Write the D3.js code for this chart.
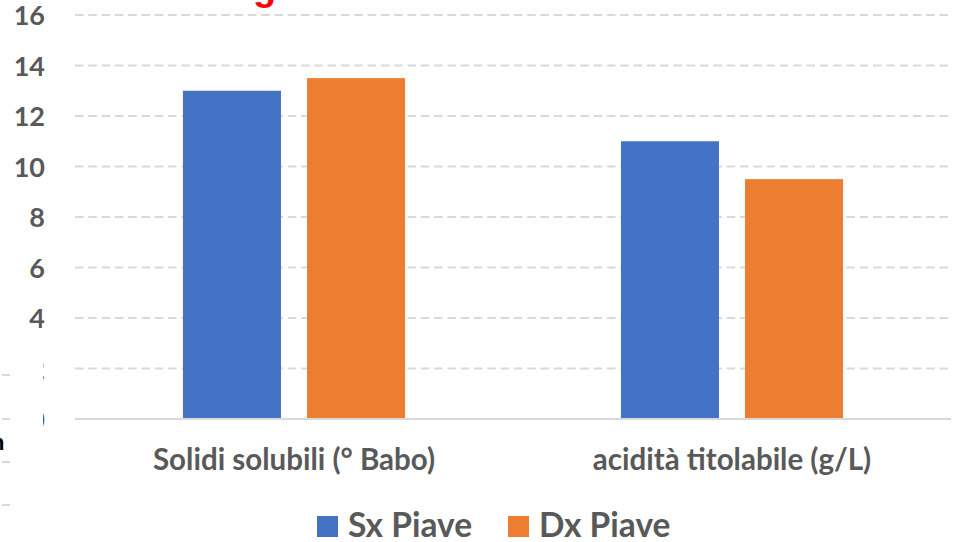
<!DOCTYPE html>
<html>
<head>
<meta charset="utf-8">
<script src="https://cdn.jsdelivr.net/npm/d3@7"></script>
<style>
  body { margin: 0; background: #fff; }
  svg { display: block; font-family: Lato, "Open Sans", sans-serif; font-weight: bold; }
</style>
</head>
<body>
<svg id="chart" width="955" height="542"></svg>
<script>
const categories = ["Solidi solubili (° Babo)", "acidità titolabile (g/L)"];
const series = ["Sx Piave", "Dx Piave"];
const sxPiave = [13, 11];
const dxPiave = [13.5, 9.5];
const yTicks = [0, 2, 4, 6, 8, 10, 12, 14, 16];
const colors = ["#4472C4", "#ED7D31"];

const values = [sxPiave, dxPiave];
const svg = d3.select("#chart");
const plotLeft = 75, plotRight = 951, plotTop = 15, plotBottom = 419;

// Scales
const x0 = d3.scaleBand().domain(categories).range([plotLeft, plotRight]).padding(0);
const x1 = d3.scaleBand().domain(series).range([0, x0.bandwidth()])
  .paddingInner(0.21).paddingOuter(0.87);
const y = d3.scaleLinear().domain([0, 16]).range([plotBottom, plotTop]);

// Gridlines
svg.append("g")
  .selectAll("line")
  .data(yTicks.filter(d => d > 0))
  .enter()
  .append("line")
  .attr("x1", plotLeft)
  .attr("x2", plotRight)
  .attr("y1", d => y(d))
  .attr("y2", d => y(d))
  .attr("stroke", "#d9d9d9")
  .attr("stroke-width", 2)
  .attr("stroke-dasharray", "8.5,4.8");

// Y axis labels
const yAxis = d3.axisLeft(y).tickValues(yTicks).tickSize(0).tickPadding(0);
const yg = svg.append("g")
  .attr("transform", `translate(45,1)`)
  .call(yAxis);
yg.select(".domain").remove();
yg.selectAll("text")
  .attr("fill", "#595959")
  .style("font-size", "27px")
  .style("font-family", "Lato, sans-serif")
  .style("font-weight", "bold");

// Bars
const groups = svg.append("g")
  .selectAll("g")
  .data(series)
  .enter()
  .append("g")
  .attr("fill", (d, i) => colors[i]);

groups.selectAll("rect")
  .data((s, i) => categories.map((c, j) => ({ c: c, s: s, v: values[i][j] })))
  .enter()
  .append("rect")
  .attr("x", d => x0(d.c) + x1(d.s))
  .attr("y", d => y(d.v))
  .attr("width", x1.bandwidth())
  .attr("height", d => y(0) - y(d.v));

// Baseline
svg.append("line")
  .attr("x1", plotLeft)
  .attr("x2", plotRight)
  .attr("y1", y(0))
  .attr("y2", y(0))
  .attr("stroke", "#d9d9d9")
  .attr("stroke-width", 2);

// Category labels
svg.append("g")
  .selectAll("text")
  .data(categories)
  .enter()
  .append("text")
  .attr("x", d => x0(d) + x0.bandwidth() / 2)
  .attr("y", 470)
  .attr("text-anchor", "middle")
  .attr("fill", "#595959")
  .style("font-size", "29.5px")
  .text(d => d);

// Legend
const legendX = [317, 508];
const legend = svg.append("g")
  .selectAll("g")
  .data(series)
  .enter()
  .append("g")
  .attr("transform", (d, i) => `translate(${legendX[i]},516)`);
legend.append("rect")
  .attr("width", 21)
  .attr("height", 21)
  .attr("fill", (d, i) => colors[i]);
legend.append("text")
  .attr("x", 31)
  .attr("y", 20.5)
  .attr("fill", "#595959")
  .style("font-size", "33.5px")
  .text(d => d);

// Cropped leftovers of the slide: red title descender and a covering panel on the left
svg.append("text")
  .attr("x", 253)
  .attr("y", 0)
  .attr("fill", "#ff0000")
  .style("font-size", "38px")
  .style("font-weight", "bold")
  .style("font-family", "Liberation Sans, Arial, sans-serif")
  .text("g");

svg.append("rect")
  .attr("x", 0)
  .attr("y", 352)
  .attr("width", 43)
  .attr("height", 190)
  .attr("fill", "#fff");

svg.append("g")
  .selectAll("line")
  .data([375, 419, 462, 505])
  .enter()
  .append("line")
  .attr("x1", 2)
  .attr("x2", 10)
  .attr("y1", d => d)
  .attr("y2", d => d)
  .attr("stroke", "#d9d9d9")
  .attr("stroke-width", 2);

svg.append("text")
  .attr("x", -9)
  .attr("y", 450)
  .attr("fill", "#000")
  .style("font-size", "22px")
  .style("font-family", "Liberation Sans, Arial, sans-serif")
  .text("n");
</script>
</body>
</html>
